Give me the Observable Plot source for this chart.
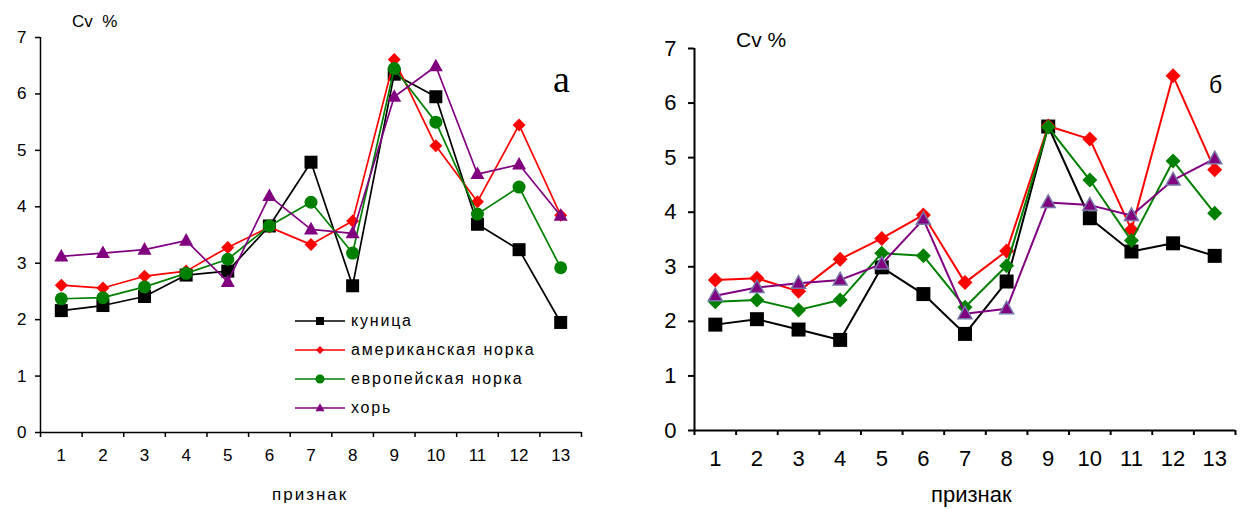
<!DOCTYPE html>
<html><head><meta charset="utf-8">
<script src="https://cdn.jsdelivr.net/npm/d3@7"></script>
<script src="https://cdn.jsdelivr.net/npm/@observablehq/plot@0.6"></script>
<style>
html,body{margin:0;padding:0;background:#fff;}
#wrap{position:relative;width:1240px;height:509px;overflow:hidden;font-family:"Liberation Sans",Arial,sans-serif;color:#000;}
.abs{position:absolute;white-space:nowrap;line-height:1;}
</style>
</head><body>
<div id="wrap">
  <div id="chartA" class="abs" style="left:0;top:0"></div>
  <div id="chartB" class="abs" style="left:620px;top:0"></div>
  <div class="abs" style="left:72px;top:13px;font-size:17px;">Cv&nbsp; %</div>
  <div class="abs" style="left:553px;top:60px;font-size:38px;font-family:'Liberation Serif','Times New Roman',serif;">а</div>
  <div class="abs" style="left:272px;top:486px;font-size:17px;letter-spacing:2px;">признак</div>
  <div class="abs" style="left:736px;top:29px;font-size:21px;">Cv %</div>
  <div class="abs" style="left:1209px;top:74px;font-size:23px;">б</div>
  <div class="abs" style="left:931px;top:484px;font-size:22px;">признак</div>
  <svg id="legend" class="abs" style="left:0;top:0" width="620" height="509"></svg>
</div>
<script>
// ---- data ----
const features = [1,2,3,4,5,6,7,8,9,10,11,12,13];
const seriesNames = ["куница","американская норка","европейская норка","хорь"];
const xTickLabels = ["1","2","3","4","5","6","7","8","9","10","11","12","13"];
const yTicks = [0,1,2,3,4,5,6,7];

// chart а
const a_kunitsa   = [2.16,2.25,2.41,2.79,2.86,3.66,4.79,2.60,6.35,5.95,3.69,3.24,1.95];
const a_amNorka   = [2.61,2.56,2.77,2.86,3.28,3.64,3.33,3.75,6.61,5.08,4.09,5.45,3.85];
const a_euNorka   = [2.37,2.39,2.58,2.82,3.07,3.66,4.08,3.18,6.45,5.50,3.87,4.35,2.92];
const a_khor      = [3.12,3.18,3.24,3.40,2.67,4.19,3.60,3.53,5.95,6.49,4.58,4.75,3.84];

// chart б
const b_kunitsa   = [1.94,2.04,1.85,1.66,2.99,2.50,1.77,2.73,5.57,3.89,3.28,3.43,3.20];
const b_amNorka   = [2.76,2.79,2.55,3.14,3.52,3.95,2.71,3.29,5.58,5.34,3.68,6.50,4.78];
const b_euNorka   = [2.36,2.39,2.21,2.39,3.25,3.20,2.26,3.02,5.56,4.59,3.48,4.94,3.98];
const b_khor      = [2.47,2.62,2.70,2.76,3.05,3.87,2.14,2.23,4.18,4.13,3.94,4.59,4.98];

// ---- styles ----
const colors = {"куница":"#000000","американская норка":"#ff0000","европейская норка":"#008000","хорь":"#800080"};
// symbols whose width equals sqrt(size)
const diamondSym = {draw(ctx, size){const s=Math.sqrt(size)/2;ctx.moveTo(0,-s);ctx.lineTo(s,0);ctx.lineTo(0,s);ctx.lineTo(-s,0);ctx.closePath();}};
const squareSym = {draw(ctx, size){const s=Math.sqrt(size)/2;ctx.rect(-s,-s,2*s,2*s);}};
const triSym = {draw(ctx, size){const w=Math.sqrt(size)/2; const h=w*1.8; ctx.moveTo(0,-h*0.6);ctx.lineTo(w,h*0.4);ctx.lineTo(-w,h*0.4);ctx.closePath();}};
const circleSym = {draw(ctx, size){const r=Math.sqrt(size)/2;ctx.moveTo(r,0);ctx.arc(0,0,r,0,2*Math.PI);}};

function table(arrs){
  const rows=[];
  seriesNames.forEach((s,i)=>arrs[i].forEach((v,j)=>rows.push({series:s,feature:features[j],value:v})));
  return rows;
}

const rW=(w)=>w/Math.sqrt(Math.PI); // radius giving symbol width w

function chart(rows, cfg){
  const marks=[];
  marks.push(Plot.ruleY([0],{stroke:"black",strokeWidth:cfg.axisW}));
  marks.push(Plot.ruleX([0.5],{stroke:"black",strokeWidth:cfg.axisW}));
  marks.push(Plot.axisY({ticks:yTicks,tickSize:cfg.yTickSize,tickPadding:cfg.yTickPad,fontSize:cfg.tickFont,strokeWidth:cfg.axisW,label:null,tickFormat:d=>String(d)}));
  marks.push(Plot.axisX({ticks:features.map(d=>d-0.5).concat([13.5]),tickSize:5,tickFormat:()=> "",strokeWidth:cfg.axisW,label:null}));
  marks.push(Plot.axisX({ticks:features,tickSize:0,tickPadding:cfg.xTickPad,fontSize:cfg.tickFont,tickFormat:d=>xTickLabels[d-1],label:null}));
  seriesNames.forEach((s,i)=>{
    const d=rows.filter(r=>r.series===s);
    marks.push(Plot.line(d,{x:"feature",y:"value",stroke:colors[s],strokeWidth:cfg.lineW}));
    const m=cfg.markers[i];
    marks.push(Plot.dot(d,{x:"feature",y:"value",symbol:m.sym,r:rW(m.w),fill:m.fill||colors[s],stroke:m.stroke||"none",strokeWidth:m.sw||0}));
  });
  return Plot.plot({
    width:620,height:509,
    marginLeft:cfg.ml,marginRight:cfg.mr,marginTop:cfg.mt,marginBottom:cfg.mb,
    x:{domain:[0.5,13.5],axis:null},
    y:{domain:[0,7],axis:null},
    style:{fontFamily:"'Liberation Sans',Arial,sans-serif",color:"black",background:"white"},
    marks
  });
}

document.getElementById("chartA").append(chart(table([a_kunitsa,a_amNorka,a_euNorka,a_khor]),{
  ml:40,mr:39,mt:37,mb:77,axisW:1.5,lineW:1.7,tickFont:17,yTickSize:5,yTickPad:9,xTickPad:16,
  markers:[{sym:squareSym,w:13},{sym:diamondSym,w:13},{sym:circleSym,w:13},{sym:triSym,w:14}]
}));
document.getElementById("chartB").append(chart(table([b_kunitsa,b_amNorka,b_euNorka,b_khor]),{
  ml:74,mr:5,mt:48,mb:79,axisW:2,lineW:2,tickFont:22,yTickSize:6,yTickPad:12,xTickPad:20,
  markers:[{sym:squareSym,w:14},{sym:diamondSym,w:15},{sym:diamondSym,w:15,fill:"#008000"},{sym:triSym,w:14,stroke:"#7777a8",sw:1.5}]
}));

// ---- legend for chart а ----
const leg=d3.select("#legend");
const legSyms=[squareSym,diamondSym,circleSym,triSym];
const legSizes=[8,8,9,9];
seriesNames.forEach((s,i)=>{
  const y=321+i*29;
  leg.append("line").attr("x1",295).attr("x2",345).attr("y1",y).attr("y2",y).attr("stroke",colors[s]).attr("stroke-width",1.7);
  leg.append("path").attr("transform",`translate(320,${y})`).attr("d",d3.symbol(legSyms[i],legSizes[i]*legSizes[i])()).attr("fill",colors[s]);
  leg.append("text").attr("x",351).attr("y",y+5).attr("font-size",16).attr("letter-spacing","1.8px")
    .attr("font-family","'Liberation Sans',Arial,sans-serif").text(s);
});
</script>
</body></html>
